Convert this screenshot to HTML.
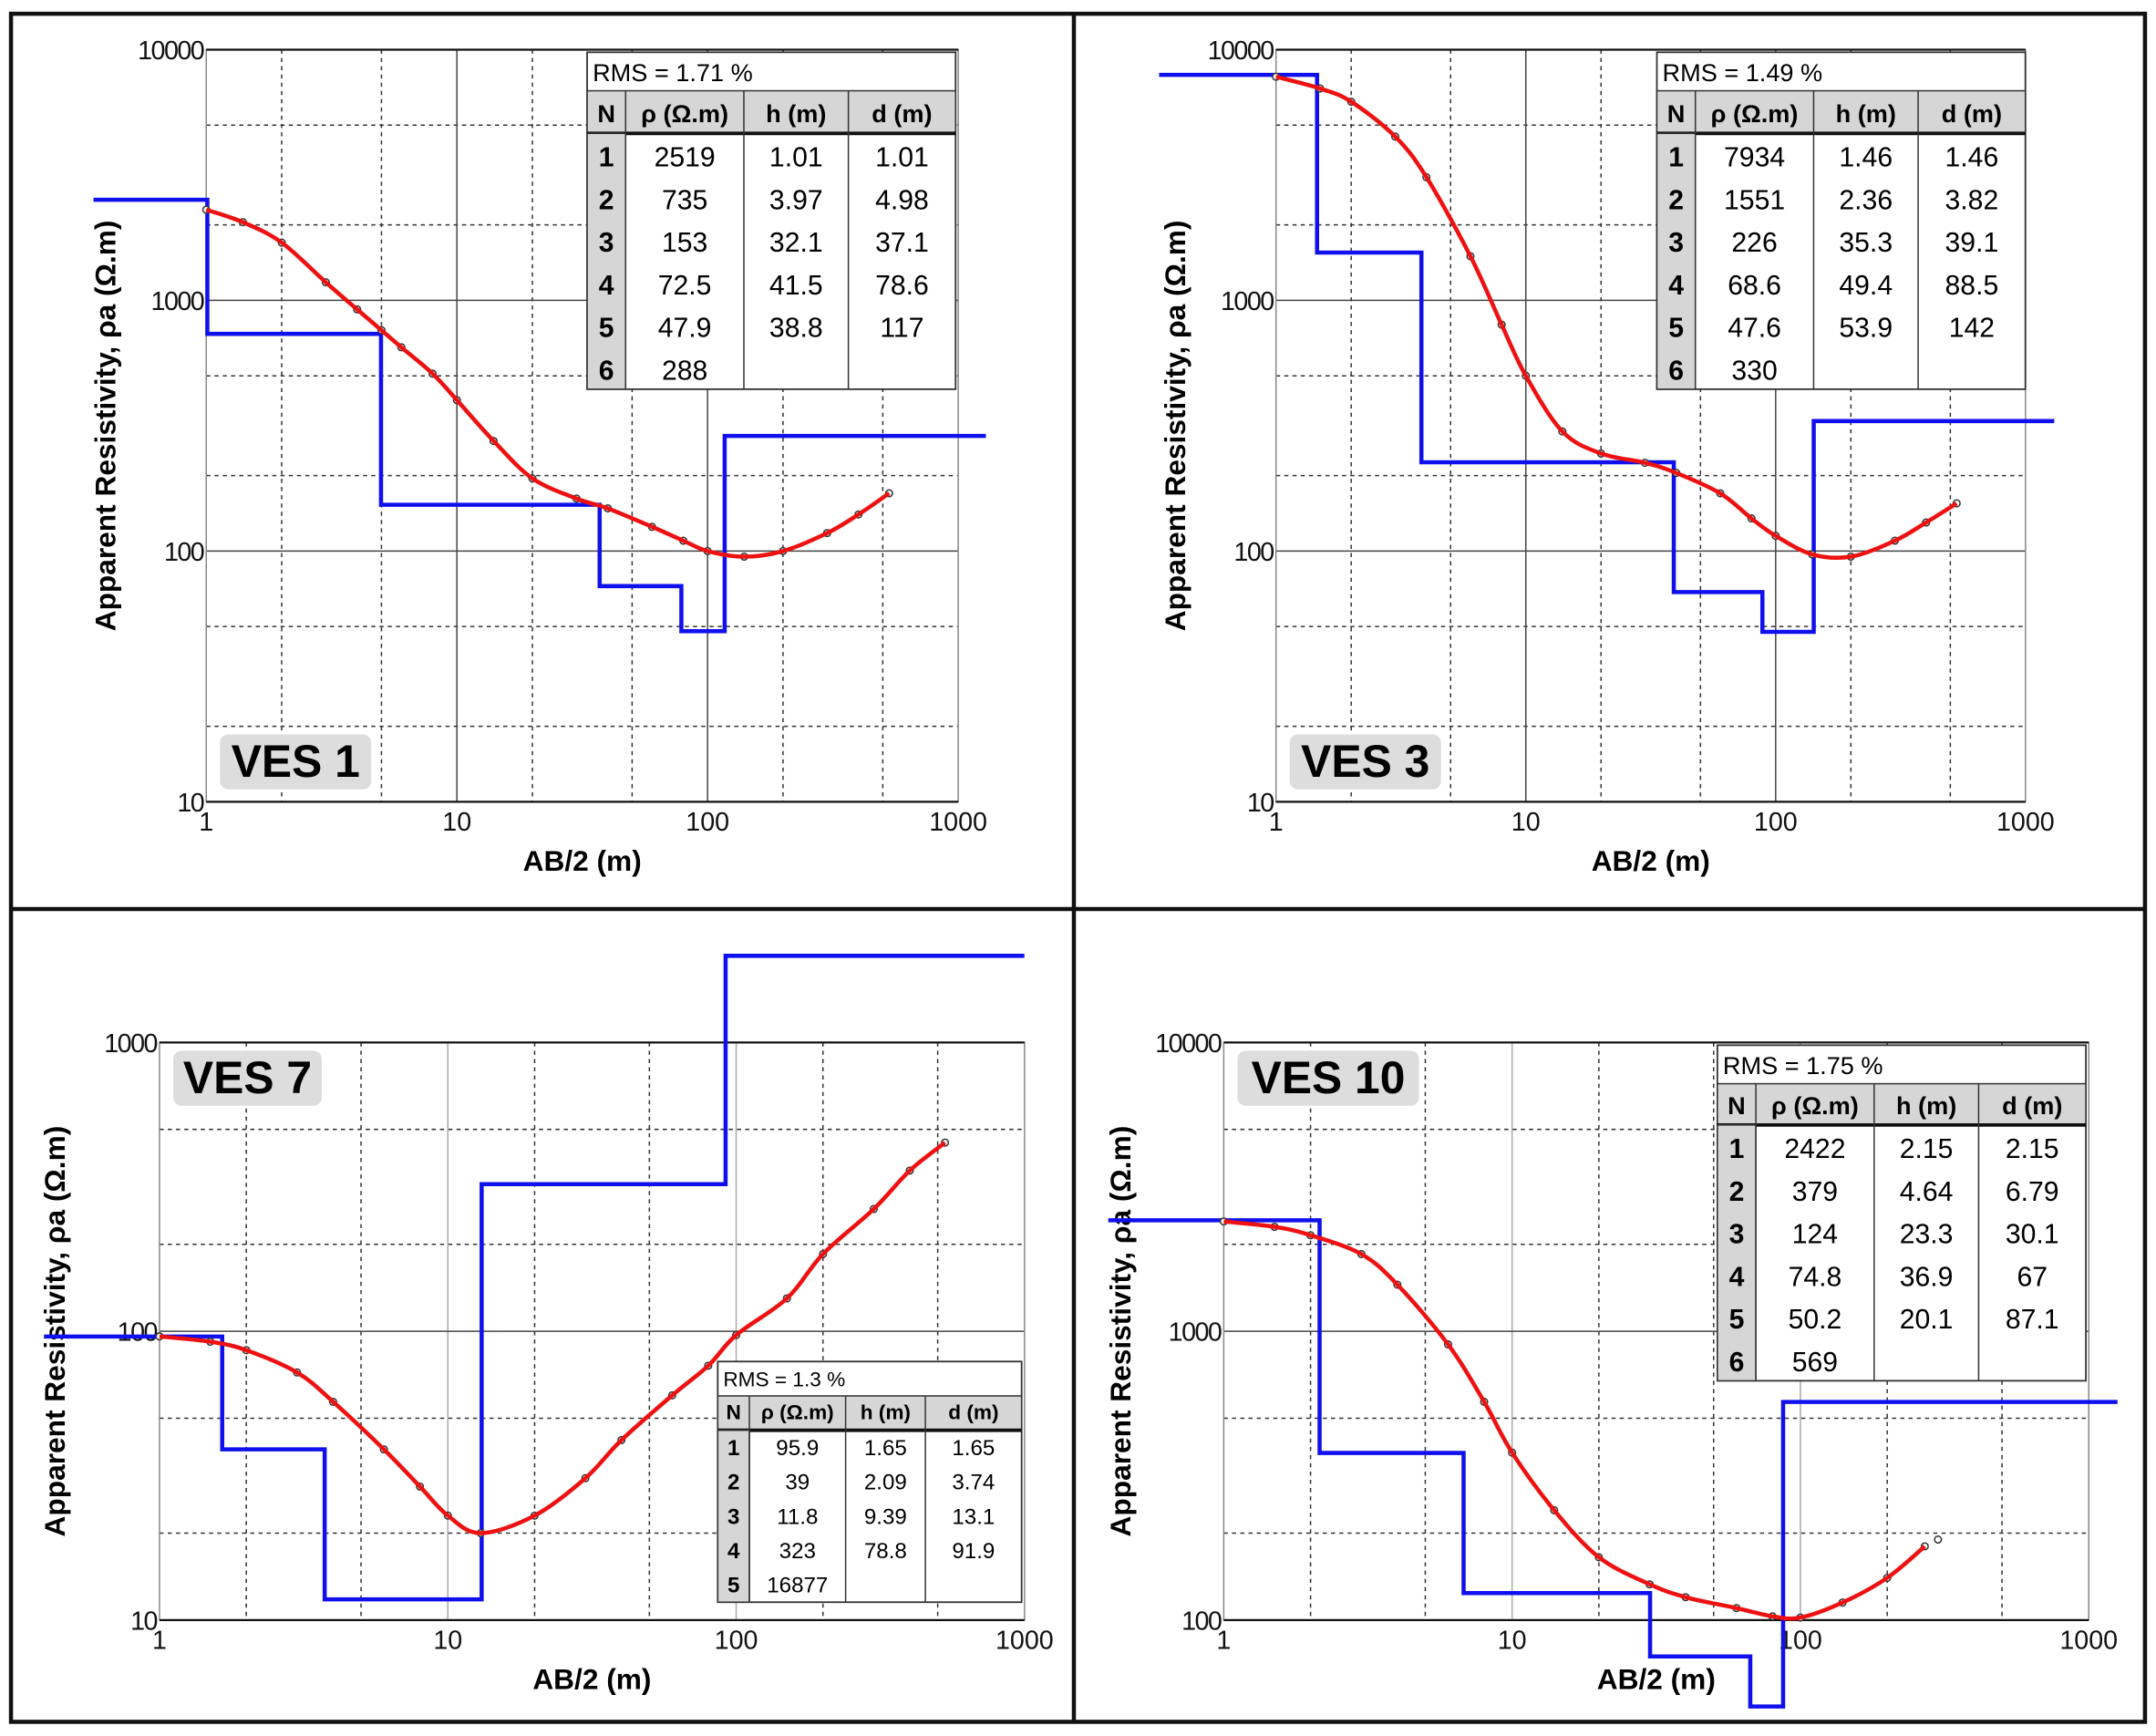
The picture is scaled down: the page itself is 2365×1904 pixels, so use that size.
<!DOCTYPE html>
<html><head><meta charset="utf-8"><style>
html,body{margin:0;padding:0;background:#fff;}
svg{display:block;}
text{font-family:"Liberation Sans",sans-serif;}
</style></head><body>
<svg id="s" width="2365" height="1904" viewBox="0 0 1568 1262.3" preserveAspectRatio="none" xmlns="http://www.w3.org/2000/svg"></svg>
<script>
const S=document.getElementById('s');let h='';
h+='<rect x="8" y="10" width="1552" height="1242" fill="none" stroke="#111" stroke-width="3"/>';
h+='<line x1="781" y1="10" x2="781" y2="1252" stroke="#111" stroke-width="3"/>';
h+='<line x1="8" y1="661" x2="1560" y2="661" stroke="#111" stroke-width="3"/>';
function smooth(p){let d='M'+p[0][0]+','+p[0][1];for(let i=0;i<p.length-1;i++){const a=p[i-1]||p[i],b=p[i],c=p[i+1],e=p[i+2]||c;
 d+=` C${b[0]+(c[0]-a[0])/6},${b[1]+(c[1]-a[1])/6} ${c[0]-(e[0]-b[0])/6},${c[1]-(e[1]-b[1])/6} ${c[0]},${c[1]}`;}return d;}
function panel(P){
 const X=v=>P.x0+Math.log10(v)*P.dx, Y=v=>P.ybot-(Math.log10(v)-P.ylo)*P.dy;
 const xr=X(1000), yt=Y(Math.pow(10,P.yhi));
 for(let d=0;d<3;d++){for(const m of [2,5]){const x=X(m*Math.pow(10,d));h+=`<line x1="${x}" y1="${yt}" x2="${x}" y2="${P.ybot}" stroke="#333" stroke-width="1" stroke-dasharray="3,3"/>`;}}
 for(let d=P.ylo;d<P.yhi;d++){for(const m of [2,5]){const y=Y(m*Math.pow(10,d));h+=`<line x1="${P.x0}" y1="${y}" x2="${xr}" y2="${y}" stroke="#333" stroke-width="1" stroke-dasharray="3,3"/>`;}}
 for(let d=1;d<3;d++){const x=X(Math.pow(10,d));h+=`<line x1="${x}" y1="${yt}" x2="${x}" y2="${P.ybot}" stroke="${P.vg||'#444'}" stroke-width="1"/>`;}
 for(let d=P.ylo+1;d<P.yhi;d++){const y=Y(Math.pow(10,d));h+=`<line x1="${P.x0}" y1="${y}" x2="${xr}" y2="${y}" stroke="#444" stroke-width="1"/>`;}
 h+=`<rect x="${P.x0}" y="${yt}" width="${xr-P.x0}" height="${P.ybot-yt}" fill="none" stroke="#888" stroke-width="1"/>`;
 h+=`<line x1="${P.x0}" y1="${yt}" x2="${xr}" y2="${yt}" stroke="#111" stroke-width="1.5"/>`;
 h+=`<line x1="${P.x0}" y1="${P.ybot}" x2="${xr}" y2="${P.ybot}" stroke="#111" stroke-width="1.5"/>`;
 for(let d=0;d<=3;d++){h+=`<text x="${X(Math.pow(10,d))}" y="${P.ybot+21}" font-size="19" text-anchor="middle" fill="#111">${Math.pow(10,d)}</text>`;}
 for(let d=P.ylo;d<=P.yhi;d++){h+=`<text x="${P.x0-2}" y="${Y(Math.pow(10,d))+7}" font-size="19" text-anchor="end" fill="#111" letter-spacing="-1">${Math.pow(10,d)}</text>`;}
 h+=`<text x="${(P.x0+xr)/2}" y="${P.ybot+50}" font-size="21" font-weight="bold" text-anchor="middle">AB/2 (m)</text>`;
 const cy=(yt+P.ybot)/2;
 h+=`<text transform="translate(${P.ylab},${cy}) rotate(-90)" font-size="21" font-weight="bold" text-anchor="middle">Apparent Resistivity, ρa (Ω.m)</text>`;
 let pts=[[P.bstart,Y(P.rho[0])]];let cur=P.rho[0];
 for(let i=0;i<P.dep.length;i++){const x=X(P.dep[i]);pts.push([x,Y(cur)]);cur=P.rho[i+1];let yy=P.clip&&i==P.dep.length-1?P.clip:Y(cur);pts.push([x,yy]);if(P.clip&&i==P.dep.length-1){pts.push([P.bend,yy]);}}
 if(!P.clip)pts.push([P.bend,Y(cur)]);
 h+=`<polyline points="${pts.map(p=>p.join(',')).join(' ')}" fill="none" stroke="#1010ee" stroke-width="3"/>`;
 for(const p of P.red.concat(P.extra||[])){h+=`<circle cx="${X(p[0])}" cy="${Y(p[1])}" r="2.5" fill="#fff" stroke="#333" stroke-width="1"/>`;}
 h+=`<path d="${smooth(P.red.map(p=>[X(p[0]),Y(p[1])]))}" fill="none" stroke="#ee1111" stroke-width="3" stroke-linejoin="round"/>`;
 h+=`<rect x="${P.lx}" y="${P.ly}" width="${P.lw}" height="40" rx="6" fill="#ddd"/><text x="${P.lx+P.lw/2}" y="${P.ly+31}" font-size="33" font-weight="bold" text-anchor="middle">${P.name}</text>`;
 const T=P.t;const cols=T.cols, rh=T.rh;
 const tx=T.x, tw=cols.reduce((a,b)=>a+b,0), n=T.rows.length;
 const th=T.r0+T.hh+n*rh;
 h+=`<rect x="${tx}" y="${T.y}" width="${tw}" height="${th}" fill="#fff" stroke="#333" stroke-width="1.2"/>`;
 h+=`<text x="${tx+4}" y="${T.y+T.r0-7}" font-size="${T.fs}">${T.rms}</text>`;
 const hy=T.y+T.r0;
 h+=`<rect x="${tx}" y="${hy}" width="${tw}" height="${T.hh}" fill="#d6d6d6" stroke="#333"/>`;
 h+=`<line x1="${tx}" y1="${hy+T.hh}" x2="${tx+tw}" y2="${hy+T.hh}" stroke="#111" stroke-width="2.5"/>`;
 h+=`<rect x="${tx}" y="${hy+T.hh}" width="${cols[0]}" height="${n*rh}" fill="#d6d6d6" stroke="#333"/>`;
 let cx=tx;const hdr=['N','ρ (Ω.m)','h (m)','d (m)'];
 for(let c=0;c<4;c++){const w=cols[c];if(c>0)h+=`<line x1="${cx}" y1="${hy}" x2="${cx}" y2="${T.y+th}" stroke="#333"/>`;
  h+=`<text x="${cx+w/2}" y="${hy+T.hh-8}" font-size="${T.fs}" font-weight="bold" text-anchor="middle">${hdr[c]}</text>`;
  for(let r=0;r<n;r++){const v=c==0?r+1:(T.rows[r][c-1]||'');h+=`<text x="${cx+w/2}" y="${hy+T.hh+(r+1)*rh-7}" font-size="${T.fs2}" ${c==0?'font-weight="bold"':''} text-anchor="middle">${v}</text>`;}
  cx+=w;}
}
panel({x0:150,dx:182.3,ybot:583,dy:182.3,ylo:1,yhi:4,ylab:84,bstart:68,bend:717,
 rho:[2519,735,153,72.5,47.9,288],dep:[1.01,4.98,37.1,78.6,117],
 red:[[1,2300],[1.4,2050],[2,1700],[3,1180],[4,920],[5,760],[6,650],[8,510],[10,400],[14,275],[20,195],[30,162],[40,148],[60,125],[80,110],[100,100],[140,95],[200,100],[300,118],[400,140],[530,170]],
 name:'VES 1',lx:160,ly:534,lw:110,
 t:{x:427,y:38,cols:[28,86,76,78],r0:28,hh:31,rh:31,fs:18,fs2:20,rms:'RMS = 1.71 %',rows:[[2519,1.01,1.01],[735,3.97,4.98],[153,32.1,37.1],[72.5,41.5,78.6],[47.9,38.8,117],[288]]}});
panel({x0:928,dx:181.7,ybot:583,dy:182.3,ylo:1,yhi:4,ylab:862,bstart:843,bend:1494,
 rho:[7934,1551,226,68.6,47.6,330],dep:[1.46,3.82,39.1,88.5,142],
 red:[[1,7800],[1.5,7000],[2,6200],[3,4500],[4,3100],[6,1500],[8,800],[10,500],[14,300],[20,245],[30,225],[40,205],[60,170],[80,135],[100,115],[140,97],[200,95],[300,110],[400,130],[530,155]],
 name:'VES 3',lx:938,ly:534,lw:110,
 t:{x:1205,y:38,cols:[28,86,76,78],r0:28,hh:31,rh:31,fs:18,fs2:20,rms:'RMS = 1.49 %',rows:[[7934,1.46,1.46],[1551,2.36,3.82],[226,35.3,39.1],[68.6,49.4,88.5],[47.6,53.9,142],[330]]}});
panel({x0:116,dx:209.7,ybot:1178,dy:210,ylo:1,yhi:3,ylab:47,bstart:32,bend:745,vg:'#aaa',clip:695,
 rho:[95.9,39,11.8,323,2000],dep:[1.65,3.74,13.1,91.9],
 red:[[1,96],[1.5,92],[2,86],[3,72],[4,57],[6,39],[8,29],[10,23],[13,20],[20,23],[30,31],[40,42],[60,60],[80,76],[100,97],[150,130],[200,185],[300,265],[400,360],[530,450]],
 name:'VES 7',lx:126,ly:764,lw:108,
 t:{x:522,y:990,cols:[23,70,58,70],r0:25,hh:25,rh:25,fs:15,fs2:16,rms:'RMS = 1.3 %',rows:[[95.9,1.65,1.65],[39,2.09,3.74],[11.8,9.39,13.1],[323,78.8,91.9],[16877]]}});
panel({x0:890,dx:209.7,ybot:1178,dy:210,ylo:2,yhi:4,ylab:822,bstart:806,bend:1540,vg:'#aaa',
 rho:[2422,379,124,74.8,50.2,569],dep:[2.15,6.79,30.1,67,87.1],
 red:[[1,2400],[1.5,2300],[2,2150],[3,1850],[4,1450],[6,900],[8,570],[10,380],[14,240],[20,165],[30,133],[40,120],[60,110],[80,103],[100,102],[140,115],[200,140],[270,180]],extra:[[300,190]],
 name:'VES 10',lx:900,ly:764,lw:132,
 t:{x:1249,y:760,cols:[28,86,76,78],r0:28,hh:30,rh:31,fs:18,fs2:20,rms:'RMS = 1.75 %',rows:[[2422,2.15,2.15],[379,4.64,6.79],[124,23.3,30.1],[74.8,36.9,67],[50.2,20.1,87.1],[569]]}});
S.innerHTML=h;
</script>
</body></html>
